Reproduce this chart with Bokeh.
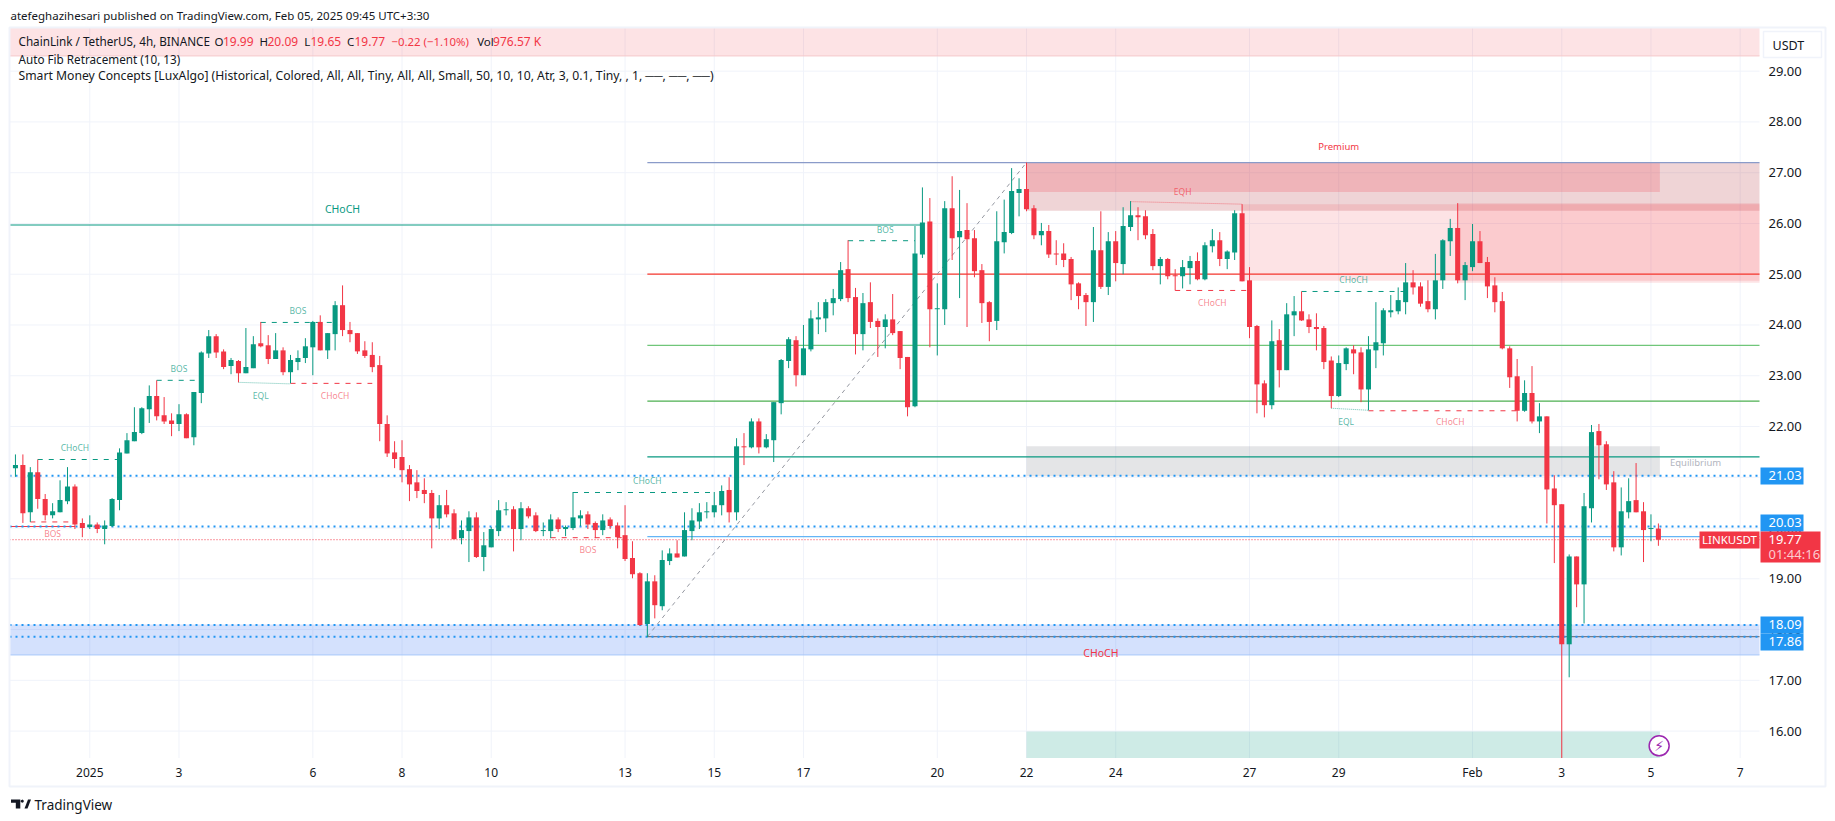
from bokeh.plotting import figure
from bokeh.models import (Range1d, FixedTicker, Label, BoxAnnotation, PolyAnnotation,
                          NumeralTickFormatter, ColumnDataSource)
from bokeh.core.properties import value
from bokeh.embed import file_html
from bokeh.resources import INLINE

# ---------- OHLC data (4h candles) ----------
ohlc = """21.18 21.45 21.01 21.24
21.24 21.45 20.10 20.29
20.31 21.20 20.12 21.10
21.10 21.35 20.38 20.57
20.57 20.67 20.15 20.25
20.25 20.49 20.19 20.33
20.31 20.94 20.31 20.55
20.53 21.20 20.47 20.82
20.82 20.86 19.98 20.07
20.10 20.19 19.82 20.00
20.02 20.25 19.98 20.07
20.07 20.11 19.90 19.98
19.98 20.15 19.68 20.05
20.04 20.59 20.02 20.57
20.55 21.57 20.35 21.49
21.47 21.87 21.47 21.73
21.71 22.38 21.71 21.89
21.87 22.38 21.85 22.36
22.34 22.81 22.07 22.60
22.60 22.91 22.12 22.20
22.22 22.58 22.05 22.10
22.12 22.26 21.81 22.05
22.05 22.44 21.91 22.24
22.24 22.26 21.77 21.77
21.79 22.68 21.63 22.68
22.66 23.48 22.46 23.46
23.44 23.90 23.35 23.78
23.78 23.82 23.35 23.46
23.48 23.52 23.13 23.17
23.19 23.35 23.03 23.31
23.29 23.31 22.87 23.05
23.05 23.94 23.05 23.17
23.15 23.78 23.15 23.62
23.64 24.06 23.56 23.58
23.60 23.80 23.23 23.33
23.33 23.84 23.33 23.50
23.50 23.56 23.01 23.07
23.07 23.41 22.85 23.31
23.27 23.50 23.11 23.35
23.35 23.74 23.25 23.58
23.56 24.08 23.01 24.06
24.06 24.19 23.50 23.50
23.50 23.84 23.33 23.84
23.82 24.47 23.50 24.39
24.39 24.78 23.78 23.90
23.90 24.06 23.66 23.82
23.84 23.84 23.43 23.48
23.50 23.68 23.35 23.39
23.41 23.66 23.07 23.17
23.21 23.39 21.71 22.05
22.05 22.22 21.40 21.47
21.49 21.71 21.18 21.36
21.40 21.73 20.90 21.14
21.16 21.24 20.53 20.86
20.90 21.14 20.59 20.73
20.75 20.98 20.49 20.67
20.69 20.75 19.60 20.19
20.19 20.65 19.98 20.45
20.45 20.75 20.21 20.27
20.29 20.37 19.78 19.78
19.80 20.15 19.68 19.96
19.94 20.33 19.33 20.21
20.21 20.31 19.41 19.43
19.43 19.92 19.15 19.66
19.62 20.02 19.62 19.98
19.94 20.55 19.84 20.35
20.35 20.51 20.25 20.37
20.37 20.43 19.54 19.98
19.98 20.51 19.76 20.39
20.39 20.43 20.19 20.23
20.25 20.31 19.92 19.94
19.94 20.11 19.84 19.96
19.94 20.27 19.80 20.17
20.17 20.21 19.92 19.98
19.98 20.05 19.84 20.02
20.00 20.71 19.96 20.21
20.19 20.35 20.04 20.25
20.27 20.33 19.98 20.07
20.10 20.13 19.80 19.96
19.96 20.27 19.86 20.15
20.17 20.21 19.98 20.04
20.05 20.11 19.60 19.82
19.86 20.45 19.35 19.39
19.41 19.74 19.01 19.09
19.11 19.13 18.07 18.09
18.11 19.11 17.85 18.95
18.95 19.07 18.22 18.48
18.46 19.56 18.38 19.37
19.35 19.60 19.27 19.50
19.50 19.76 19.42 19.42
19.44 20.31 19.44 19.96
19.94 20.39 19.76 20.15
20.13 20.49 19.98 20.31
20.31 20.51 20.19 20.33
20.31 20.71 20.21 20.45
20.45 20.84 20.25 20.73
20.75 21.00 20.11 20.31
20.31 21.77 20.15 21.61
21.61 21.87 21.24 21.59
21.59 22.16 21.57 22.10
22.10 22.16 21.47 21.59
21.59 21.85 21.57 21.75
21.73 22.48 21.30 22.48
22.46 23.33 22.24 23.31
23.29 23.76 23.15 23.72
23.70 23.78 22.79 23.01
23.01 24.00 23.01 23.54
23.52 24.29 23.48 24.13
24.11 24.45 23.82 24.15
24.13 24.51 23.86 24.45
24.43 24.71 24.19 24.53
24.51 25.24 24.47 25.08
25.10 25.67 24.45 24.53
24.55 24.73 23.42 23.82
23.82 24.63 23.50 24.43
24.45 24.84 23.94 24.06
24.08 24.13 23.37 23.96
23.96 24.21 23.54 24.11
24.11 24.61 23.80 23.84
23.88 23.88 23.13 23.35
23.37 23.37 22.20 22.38
22.40 25.95 22.38 25.41
25.39 26.71 25.32 26.02
26.04 26.50 23.56 24.31
24.31 24.82 23.40 24.33
24.31 26.44 24.00 26.30
26.30 26.93 25.28 25.71
25.73 26.66 24.53 25.85
25.87 26.40 23.96 25.69
25.71 25.87 24.94 25.06
25.08 25.20 24.04 24.43
24.45 24.47 23.68 24.06
24.08 26.24 23.90 25.65
25.63 26.47 25.41 25.83
25.81 27.09 25.79 26.64
26.60 26.89 26.14 26.68
26.68 27.20 26.24 26.28
26.30 26.36 25.69 25.77
25.77 26.01 25.57 25.85
25.85 25.97 25.32 25.39
25.41 25.67 25.18 25.39
25.41 25.61 25.14 25.28
25.30 25.34 24.49 24.80
24.82 24.84 24.31 24.57
24.59 24.63 23.98 24.45
24.45 25.93 24.06 25.47
25.47 26.24 24.71 24.75
24.75 25.83 24.59 25.65
25.65 25.85 24.86 25.22
25.20 26.32 25.00 25.95
25.93 26.44 25.85 26.16
26.16 26.32 25.67 26.12
26.14 26.26 25.69 25.77
25.79 25.89 25.08 25.16
25.16 25.34 24.80 25.30
25.30 25.32 24.90 24.96
24.98 25.10 24.68 24.96
24.96 25.28 24.72 25.14
25.12 25.36 24.80 25.26
25.26 25.43 24.88 24.90
24.90 25.63 24.88 25.57
25.55 25.89 25.43 25.67
25.67 25.83 25.16 25.30
25.30 25.47 25.10 25.45
25.43 26.26 25.28 26.20
26.20 26.38 24.86 24.86
24.88 25.14 23.74 23.96
23.98 24.00 22.26 22.83
22.85 22.91 22.18 22.42
22.42 24.09 22.34 23.68
23.70 23.92 22.77 23.11
23.11 24.43 23.11 24.21
24.19 24.57 23.78 24.27
24.27 24.66 24.08 24.09
24.11 24.21 23.84 23.96
23.96 24.23 23.50 23.92
23.94 23.98 23.13 23.27
23.30 23.38 22.36 22.60
22.60 23.40 22.58 23.25
23.23 23.56 23.11 23.54
23.52 23.60 23.03 23.44
23.46 23.56 22.48 22.73
22.73 23.78 22.32 23.52
23.50 24.45 23.15 23.66
23.64 24.33 23.40 24.29
24.25 24.59 24.15 24.29
24.27 24.74 24.21 24.49
24.45 25.22 24.21 24.84
24.84 25.08 24.60 24.74
24.76 24.84 24.36 24.42
24.47 24.88 24.25 24.31
24.31 25.40 24.11 24.88
24.88 25.69 24.71 25.67
25.65 26.09 25.36 25.91
25.91 26.40 24.82 24.88
24.88 25.24 24.49 25.18
25.14 25.99 25.06 25.65
25.65 25.85 25.22 25.22
25.24 25.34 24.53 24.76
24.78 24.94 24.25 24.45
24.47 24.65 23.52 23.54
23.54 23.58 22.76 22.97
22.99 23.33 22.10 22.31
22.31 22.91 22.29 22.66
22.66 23.19 22.06 22.10
22.10 22.46 21.87 22.20
22.20 22.20 20.09 20.76
20.78 21.04 19.31 20.45
20.47 20.47 15.47 17.71
17.71 19.48 17.06 19.44
19.44 19.44 18.44 18.89
18.89 20.69 18.12 20.43
20.39 22.03 20.11 21.89
21.91 22.05 20.96 21.63
21.65 21.71 20.75 20.86
20.90 21.12 19.54 19.62
19.62 20.80 19.46 20.33
20.31 20.98 20.19 20.53
20.55 21.28 20.31 20.31
20.33 20.51 19.33 19.96
19.98 20.27 19.74 20.00
19.99 20.09 19.65 19.77"""
rows = [list(map(float, r.split())) for r in ohlc.splitlines()]
opens = [r[0] for r in rows]
highs = [r[1] for r in rows]
lows = [r[2] for r in rows]
closes = [r[3] for r in rows]
first_bar = -10
bars = list(range(first_bar, first_bar + len(rows)))

# ---------- axes ----------
tick_days = [0, 2, 5, 7, 9, 12, 14, 16, 19, 21, 23, 26, 28, 31, 33, 35, 37]
tick_text = ["2025", "3", "6", "8", "10", "13", "15", "17", "20", "22", "24", "27", "29", "Feb", "3", "5", "7"]
price_ticks = list(range(16, 30))

# ---------- zones: left, right, top, bottom, colour, alpha ----------
X0, X1 = -10.8, 224.6   # chart pane, in bars
Y0, Y1 = 15.47, 29.87   # chart pane, in price
zones = [
    (X0, X1, Y1, 29.30, "#f23645", 0.14),
    (X0, X1, 18.10, 17.50, "#2a6bf5", 0.2),
    (126, X1, 27.20, 26.25, "#af2832", 0.2),
    (126, 211.2, 27.20, 26.62, "#f23645", 0.2),
    (155, X1, 26.38, 24.87, "#f23645", 0.14),
    (184, X1, 26.40, 24.83, "#f23645", 0.14),
    (126, 211.2, 21.61, 21.02, "#787b86", 0.2),
    (126, 211.2, 15.99, Y0, "#089981", 0.2),
]
# ---------- fib levels ----------
fib_start = 75
fib_levels = [27.2, 25.0, 23.6, 22.5, 21.4, 19.83, 17.86]
fib_colors = ["#8a9bc9", "#f7372c", "#70c67a", "#4caf50", "#089981", "#64b5f6", "#787b86"]
fib_trend = ([75, 126], [17.86, 27.2])

# ---------- horizontal dotted price lines ----------
blue_levels = [21.03, 20.03, 18.09, 17.86]
red_level = 19.77

# ---------- structure lines ----------
solid_lines = [
    (X0, 111.8, 25.97, 25.97, "#089981"),
    (X0, -2, 20.03, 20.03, "#f23645"),
]
dash_lines = [
    (-7, 4, 21.35, 21.35, "#089981"),
    (-8, -2, 20.12, 20.12, "#f23645"),
    (9, 15, 22.91, 22.91, "#089981"),
    (23, 33, 24.05, 24.05, "#089981"),
    (27, 38, 22.85, 22.85, "#f23645"),
    (65, 84, 20.70, 20.70, "#089981"),
    (62, 72, 19.81, 19.81, "#f23645"),
    (102, 111, 25.66, 25.66, "#089981"),
    (146, 156, 24.68, 24.68, "#f23645"),
    (163, 177, 24.66, 24.66, "#089981"),
    (172, 192, 22.31, 22.31, "#f23645"),
]
dot_lines = [
    (20, 27, 22.87, 22.84, "#089981"),
    (140, 155, 26.43, 26.38, "#f23645"),
    (167, 172, 22.36, 22.32, "#089981"),
]
# ---------- structure labels: bar, price, text, colour, size, alpha ----------
struct_labels = [
    (34, 26.29, "CHoCH", "#089981", 10.5, 1),
    (136, 17.53, "CHoCH", "#f23645", 10.5, 1),
    (-2, 21.59, "CHoCH", "#089981", 8.5, .7),
    (-5, 19.90, "BOS", "#f23645", 8.5, .6),
    (12, 23.15, "BOS", "#089981", 8.5, .7),
    (28, 24.28, "BOS", "#089981", 8.5, .7),
    (23, 22.62, "EQL", "#089981", 8.5, .7),
    (33, 22.62, "CHoCH", "#f23645", 8.5, .6),
    (75, 20.94, "CHoCH", "#089981", 8.5, .7),
    (67, 19.58, "BOS", "#f23645", 8.5, .6),
    (107, 25.89, "BOS", "#089981", 8.5, .7),
    (147, 26.63, "EQH", "#f23645", 8.5, .7),
    (151, 24.45, "CHoCH", "#f23645", 8.5, .6),
    (170, 24.90, "CHoCH", "#089981", 8.5, .7),
    (169, 22.09, "EQL", "#089981", 8.5, .7),
    (183, 22.10, "CHoCH", "#f23645", 8.5, .6),
    (168, 27.52, "Premium", "#f23645", 9.5, 1),
    (216, 21.30, "Equilibrium", "#b2b5be", 9.5, 1),
]

FONT = "Noto Sans"
FW, FH = 1835, 818
# the frame spans the whole page so that price tags and header can sit outside the chart pane
PX, PY = 1750 / (X1 - X0), 731 / (Y1 - Y0)
RX0, RX1 = X0 - 9 / PX, X1 + (FW - 1759) / PX
RY0, RY1 = Y0 - (FH - 757.5) / PY, Y1 + 26.5 / PY

p = figure(frame_width=FW, frame_height=FH, min_border=0, output_backend="svg", toolbar_location=None,
           x_range=Range1d(RX0, RX1), y_range=Range1d(RY0, RY1), y_axis_location="right",
           background_fill_color="white", outline_line_color=None)
p.grid.visible = False

xax = p.xaxis[0]
xax.fixed_location = Y0
xax.ticker = FixedTicker(ticks=[d * 6 for d in tick_days])
xax.major_label_overrides = {d * 6: t for d, t in zip(tick_days, tick_text)}
yax = p.yaxis[0]
yax.fixed_location = X1
yax.ticker = FixedTicker(ticks=price_ticks)
yax.formatter = NumeralTickFormatter(format="0.00")
for a in (xax, yax):
    a.axis_line_color = None
    a.major_tick_line_color = None
    a.minor_tick_line_color = None
    a.major_label_text_color = "#131722"
    a.major_label_text_font = FONT
xax.major_label_text_font_size = "12px"
yax.major_label_text_font_size = "13px"
xax.major_label_standoff = 0
yax.major_label_standoff = 3

GRID = "#f0f3fa"
p.segment(x0=[d * 6 for d in tick_days], x1=[d * 6 for d in tick_days], y0=Y0, y1=Y1, line_color=GRID, level="underlay")
p.segment(x0=X0, x1=X1, y0=price_ticks, y1=price_ticks, line_color=GRID, level="underlay")

for l, r, t, b, c, a in zones:
    p.quad(left=l, right=r, top=t, bottom=b, fill_color=c, fill_alpha=a, line_color=None)
p.segment(x0=[X0, X0], x1=[X1, X1], y0=[29.30, 17.50], y1=[29.30, 17.50],
          line_color=["#f5c9cb", "#a8c8fa"], line_width=1)

for lv, c in zip(fib_levels, fib_colors):
    p.line([fib_start, X1], [lv, lv], line_color=c, line_width=1.2)
p.line(fib_trend[0], fib_trend[1], line_color="#9598a1", line_width=1, line_dash="4 4")

for x0, x1, y0, y1, c in solid_lines:
    p.line([x0, x1], [y0, y1], line_color=c, line_width=1.2)
for x0, x1, y0, y1, c in dash_lines:
    p.line([x0, x1], [y0, y1], line_color=c, line_width=1, line_dash="5 6")
for x0, x1, y0, y1, c in dot_lines:
    p.line([x0, x1], [y0, y1], line_color=c, line_width=1, line_alpha=.6, line_dash="1 1")

for lv in blue_levels:
    p.line([X0, X1], [lv, lv], line_color="#2196f3", line_width=2, line_dash="2 4")
p.line([X0, X1], [red_level, red_level], line_color="#f23645", line_width=1, line_dash="1 2")

colors = ["#089981" if c >= o else "#f23645" for o, c in zip(opens, closes)]
src = ColumnDataSource(dict(x=bars, o=opens, h=highs, l=lows, c=closes,
                            top=[max(o, c) for o, c in zip(opens, closes)],
                            bot=[min(o, c) for o, c in zip(opens, closes)], col=colors))
p.segment(x0="x", x1="x", y0="l", y1="h", line_color="col", line_width=1, source=src)
p.vbar(x="x", width=0.68, top="top", bottom="bot", fill_color="col", line_color=None, source=src)

for x, y, t, c, s, a in struct_labels:
    p.text([x], [y], text=[t], text_color=c, text_alpha=a, text_font_size=f"{s}px",
           text_font=value(FONT), text_align="center", text_baseline="middle")

p.scatter([211.1], [15.71], size=20, fill_color="white", line_color="#9c27b0", line_width=1.5)
p.text([211.1], [15.71], text=["\u26a1"], text_color="#9c27b0", text_font_size="14px",
       text_font=value("DejaVu Sans"), text_align="center", text_baseline="middle")

# ---------- page-level texts & boxes ----------
FL, FB = 0, FH  # page position of frame's left / bottom


def sx(x):
    return x - FL


def sy(y):
    return FB - y


def box(x0, y0, x1, y1, fill=None, line=None, lw=1, la=1):
    p.add_layout(BoxAnnotation(left=sx(x0), right=sx(x1), top=sy(y0), bottom=sy(y1),
                               left_units="screen", right_units="screen",
                               top_units="screen", bottom_units="screen",
                               fill_color=fill, fill_alpha=1 if fill else 0,
                               line_color=line, line_width=lw, line_alpha=la))


def text(x, y, t, color="#131722", size=12, style="normal", font=FONT, align="left", alpha=1):
    p.add_layout(Label(x=sx(x), y=sy(y), x_units="screen", y_units="screen", text=t, text_color=color,
                       text_font_size=f"{size}px", text_font_style=style, text_font=font,
                       text_align=align, text_baseline="middle", text_alpha=alpha))


box(9, 27, 1825, 786, line="#f0f3fa", lw=2)

RED = "#f23645"
text(10, 15, "atefeghazihesari published on TradingView.com, Feb 05, 2025 09:45 UTC+3:30", size=11.5)
text(18, 40.5, "ChainLink / TetherUS, 4h, BINANCE", size=11.7)
for x, t, c, s in [(214, "O", "#131722", 11.5), (222.4, "19.99", RED, 12), (259, "H", "#131722", 11.5), (267, "20.09", RED, 12),
                   (303.7, "L", "#131722", 11.5), (310, "19.65", RED, 12), (346.5, "C", "#131722", 11.5), (354, "19.77", RED, 12),
                   (391, "\u22120.22 (\u22121.10%)", RED, 11.4), (476.7, "Vol", "#131722", 11.5), (492.6, "976.57 K", RED, 12)]:
    text(x, 40.5, t, color=c, size=s)
text(18, 58, "Auto Fib Retracement (10, 13)", size=11.7)
text(18, 75, "Smart Money Concepts [LuxAlgo] (Historical, Colored, All, All, Tiny, All, All, Small, 50, 10, 10, "
             "Atr, 3, 0.1, Tiny, , 1, \u2500\u2500, \u2500\u2500, \u2500\u2500)", size=12.2)

box(1763, 31, 1821, 57, fill="white", line="#f0f3fa", lw=1.5)
text(1772, 44.5, "USDT", size=12.5)

BLUE = "#2196f3"
for y0, y1, t in [(467, 484, "21.03"), (514, 531, "20.03"), (616, 633, "18.09"), (633, 650, "17.86")]:
    box(1760, y0, 1803, y1, fill=BLUE)
    text(1768, (y0 + y1) / 2 - 0.5, t, color="white", size=13)
box(1760, 531, 1820, 562, fill=RED)
box(1699, 531, 1759, 548, fill=RED)
text(1768, 539, "19.77", color="white", size=13)
text(1768, 553, "01:44:16", color="white", size=13, alpha=.75)
text(1729, 539, "LINKUSDT", color="white", size=11.5, align="center")

# TradingView mark and name
for xs, ys in [([10.5, 19.8, 19.8, 15.3, 15.3, 10.5], [799, 799, 808, 808, 802.3, 802.3]),
               ([24, 27.5, 30.5, 27, 24], [808, 799, 799, 808, 808]),
               ([20.2, 22, 23.2, 23.2, 22, 20.2], [800, 799, 800, 801.5, 802.3, 801.5])]:
    p.add_layout(PolyAnnotation(xs=[sx(v) for v in xs], ys=[sy(v) for v in ys], xs_units="screen", ys_units="screen",
                                fill_color="#131722", fill_alpha=1, line_color=None))
text(34, 804, "TradingView", size=13.5)

open("out.html", "w").write(file_html(p, INLINE))
